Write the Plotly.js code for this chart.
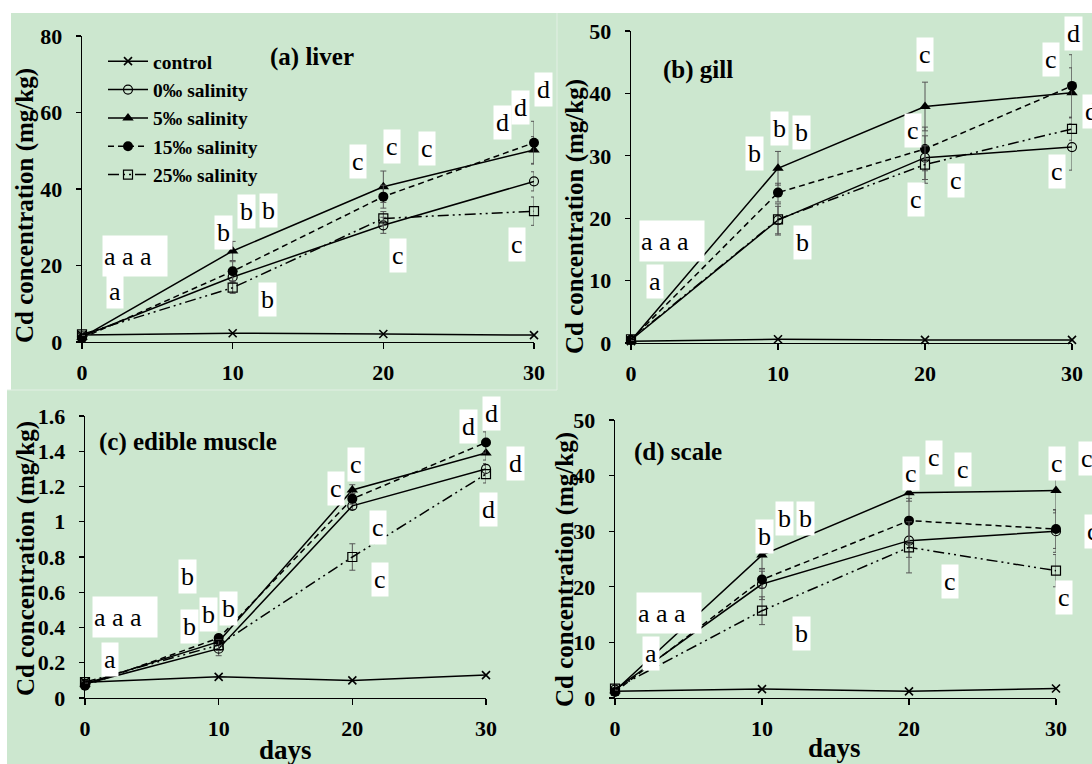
<!DOCTYPE html>
<html><head><meta charset="utf-8">
<script src="https://cdn.plot.ly/plotly-3.0.1.min.js"></script>
<style>html,body{margin:0;padding:0;background:#fff}#chart{width:1092px;height:764px}</style>
</head><body><div id="chart"></div>
<script>
// ---------- data ----------
const days = [0, 10, 20, 30];
const seriesNames = ['control', '0\u2030 salinity', '5\u2030 salinity', '15\u2030 salinity', '25\u2030 salinity'];
const panelTitles = ['(a) liver', '(b) gill', '(c) edible muscle', '(d) scale'];
const yAxisTitle = 'Cd concentration (mg/kg)';
const xAxisTitle = 'days';
const xTicks = [0, 10, 20, 30];
const liverTicks = [0, 20, 40, 60, 80];
const gillTicks = [0, 10, 20, 30, 40, 50];
const muscleTicks = [0, 0.2, 0.4, 0.6, 0.8, 1, 1.2, 1.4, 1.6];
const scaleTicks = [0, 10, 20, 30, 40, 50];

// rows: control, 0‰, 5‰, 15‰, 25‰
const liverMean = [
  [1.8, 2.3, 2.1, 1.8],
  [1.5, 17.0, 30.5, 42.0],
  [1.2, 23.8, 40.6, 50.2],
  [1.0, 18.5, 38.0, 52.1],
  [2.0, 14.2, 32.3, 34.2]
];
const liverErr = [
  [0, 0, 0, 0],
  [0.3, 1.5, 2.1, 2.5],
  [0.3, 2.5, 4.1, 3.5],
  [0.3, 2.5, 3.0, 5.6],
  [0.3, 1.5, 1.8, 3.7]
];
const gillMean = [
  [0.3, 0.6, 0.5, 0.5],
  [0.5, 19.7, 29.7, 31.4],
  [0.4, 28.0, 37.9, 40.1],
  [0.5, 24.1, 31.1, 41.2],
  [0.6, 19.8, 28.6, 34.3]
];
const gillErr = [
  [0, 0, 0, 0],
  [0.2, 2.2, 3.5, 3.7],
  [0.2, 2.7, 3.9, 4.0],
  [0.2, 1.5, 3.5, 5.0],
  [0.2, 2.5, 3.0, 1.8]
];
const muscleMean = [
  [0.09, 0.12, 0.10, 0.13],
  [0.08, 0.28, 1.09, 1.30],
  [0.08, 0.32, 1.18, 1.39],
  [0.07, 0.34, 1.13, 1.45],
  [0.09, 0.30, 0.80, 1.27]
];
const muscleErr = [
  [0, 0, 0, 0],
  [0.005, 0.04, 0.02, 0.03],
  [0.005, 0.02, 0.03, 0.04],
  [0.005, 0.02, 0.03, 0.06],
  [0.005, 0.03, 0.075, 0.05]
];
const scaleMean = [
  [1.2, 1.6, 1.2, 1.7],
  [1.5, 20.5, 28.3, 30.0],
  [1.3, 25.7, 36.9, 37.3],
  [1.1, 21.3, 31.9, 30.4],
  [1.7, 15.7, 27.1, 22.9]
];
const scaleErr = [
  [0, 0, 0, 0],
  [0.3, 2.8, 3.0, 3.8],
  [0.3, 2.5, 1.5, 4.0],
  [0.3, 1.5, 4.0, 3.5],
  [0.3, 2.5, 4.6, 2.9]
];

// significance letters: [text, day, value]
const liverLetters = [
  ['a a a', 3.55, 22.6], ['a', 2.16, 13.2],
  ['b', 9.36, 28.5], ['b', 10.95, 34.2], ['b', 12.4, 34.5], ['b', 12.3, 11.0],
  ['c', 18.3, 47.1], ['c', 20.6, 51.0], ['c', 22.9, 50.7], ['c', 21.0, 22.7],
  ['d', 27.9, 57.5], ['d', 29.1, 61.4], ['d', 30.66, 65.9], ['c', 28.9, 25.4]
];
const gillLetters = [
  ['a a a', 2.79, 16.4], ['a', 1.63, 9.8],
  ['b', 8.43, 30.4], ['b', 10.07, 34.4], ['b', 11.6, 33.7], ['b', 11.7, 16.1],
  ['c', 20.0, 46.2], ['c', 19.2, 34.0], ['c', 19.4, 23.0], ['c', 22.1, 26.1],
  ['c', 28.6, 45.5], ['d', 30.1, 49.6], ['c', 29.0, 27.5], ['d', 31.3, 37.1]
];
const muscleLetters = [
  ['a a a', 2.99, 0.457], ['a', 1.87, 0.216],
  ['b', 7.7, 0.692], ['b', 7.85, 0.403], ['b', 9.24, 0.471], ['b', 10.7, 0.508],
  ['c', 18.8, 1.19], ['c', 20.26, 1.325], ['c', 21.9, 0.967], ['c', 22.06, 0.67],
  ['d', 28.7, 1.543], ['d', 30.4, 1.617], ['d', 32.2, 1.33], ['d', 30.2, 1.072]
];
const scaleLetters = [
  ['a a a', 3.7, 15.2], ['a', 2.44, 8.05],
  ['b', 10.2, 29.0], ['b', 11.5, 32.2], ['b', 12.95, 32.2], ['b', 12.7, 11.6],
  ['c', 20.15, 40.4], ['c', 21.7, 43.3], ['c', 23.65, 41.1], ['c', 22.8, 21.0],
  ['c', 30.07, 42.1], ['c', 30.55, 18.0], ['c', 32.1, 43.0], ['c', 32.5, 30.0]
];

// ---------- styling / layout ----------
const W = 1092, H = 764;
const GREEN = '#CCE7CF';
const SERIF = "'Liberation Serif', 'Times New Roman', serif";
const px2x = p => p / W;
const px2y = p => 1 - p / H;

const panels = [
  {mean: liverMean, err: liverErr, letters: liverLetters, ticks: liverTicks, range: [0, 80],
   xs: '', xd: [82, 534], yd: [342, 36], title: [268, 57], ytitle: [25, 206], xtitle: null},
  {mean: gillMean, err: gillErr, letters: gillLetters, ticks: gillTicks, range: [0, 50],
   xs: '2', xd: [631, 1072], yd: [343, 31], title: [661, 70], ytitle: [575, 217], xtitle: null},
  {mean: muscleMean, err: muscleErr, letters: muscleLetters, ticks: muscleTicks, range: [0, 1.6],
   xs: '3', xd: [85, 486], yd: [698, 416], title: [97, 442], ytitle: [26, 559], xtitle: [285, 750]},
  {mean: scaleMean, err: scaleErr, letters: scaleLetters, ticks: scaleTicks, range: [0, 50],
   xs: '4', xd: [615, 1056], yd: [698, 420], title: [632, 452], ytitle: [565, 570], xtitle: [834, 748]}
];

const styles = [
  {symbol: 'x-thin-open', size: 8, lw: 1.6, dash: 'solid', err: false},
  {symbol: 'circle-open', size: 9, lw: 1.2, dash: 'solid', err: true},
  {symbol: 'triangle-up', size: 10, lw: 0, dash: 'solid', err: true},
  {symbol: 'circle', size: 10, lw: 0, dash: '6px,4px', err: true},
  {symbol: 'square-open', size: 9, lw: 1.2, dash: '11px,4px,2px,4px,2px,4px', err: true}
];

const traces = [];
const layout = {
  width: W, height: H,
  margin: {l: 0, r: 0, t: 0, b: 0},
  paper_bgcolor: '#ffffff',
  plot_bgcolor: 'rgba(0,0,0,0)',
  showlegend: true,
  legend: {
    x: px2x(103), y: px2y(42), xanchor: 'left', yanchor: 'top',
    bgcolor: 'rgba(0,0,0,0)', borderwidth: 0,
    font: {family: SERIF, size: 19.5, color: '#000', weight: 'bold'},
    itemwidth: 40, tracegroupgap: 0
  },
  shapes: [
    {type: 'rect', xref: 'paper', yref: 'paper', x0: px2x(11), x1: px2x(557), y0: px2y(390), y1: px2y(13), fillcolor: GREEN, line: {width: 0}, layer: 'below'},
    {type: 'rect', xref: 'paper', yref: 'paper', x0: px2x(557), x1: 1, y0: px2y(390), y1: px2y(13), fillcolor: GREEN, line: {width: 0}, layer: 'below'},
    {type: 'rect', xref: 'paper', yref: 'paper', x0: px2x(7), x1: px2x(557), y0: 0, y1: px2y(390), fillcolor: GREEN, line: {width: 0}, layer: 'below'},
    {type: 'rect', xref: 'paper', yref: 'paper', x0: px2x(557), x1: 1, y0: 0, y1: px2y(390), fillcolor: GREEN, line: {width: 0}, layer: 'below'},
    {type: 'line', xref: 'paper', yref: 'paper', x0: px2x(557), x1: px2x(557), y0: px2y(390), y1: px2y(13), line: {color: '#E2EFE4', width: 1}, layer: 'below'},
    {type: 'line', xref: 'paper', yref: 'paper', x0: px2x(7), x1: px2x(557), y0: px2y(390), y1: px2y(390), line: {color: '#E2EFE4', width: 1}, layer: 'below'}
  ],
  annotations: []
};

const tickFont = {family: SERIF, size: 22, color: '#000', weight: 'bold'};

panels.forEach((p, pi) => {
  const xa = 'xaxis' + p.xs, ya = 'yaxis' + p.xs;
  const xd = [px2x(p.xd[0]), px2x(p.xd[1])];
  const yd = [px2y(p.yd[0]), px2y(p.yd[1])];
  layout[xa] = {
    domain: xd, anchor: 'y' + p.xs, range: [0, 30], tickvals: xTicks,
    showline: true, linecolor: '#000', linewidth: 1.3, showgrid: false, zeroline: false,
    ticks: 'outside', ticklen: 6, tickwidth: 1.3, tickcolor: '#000',
    tickfont: tickFont, ticklabelstandoff: 4, fixedrange: true
  };
  layout[ya] = {
    domain: yd, anchor: 'x' + p.xs, range: p.range, tickvals: p.ticks,
    showline: true, linecolor: '#000', linewidth: 1.3, showgrid: false, zeroline: false,
    ticks: 'outside', ticklen: 5, tickwidth: 1.3, tickcolor: '#000',
    tickfont: tickFont, ticklabelstandoff: 9, fixedrange: true
  };
  p.mean.forEach((vals, si) => {
    const s = styles[si];
    traces.push({
      type: 'scatter', mode: 'lines+markers', x: days, y: vals,
      xaxis: 'x' + p.xs, yaxis: 'y' + p.xs,
      name: seriesNames[si], showlegend: pi === 0, cliponaxis: false,
      line: {color: '#000', width: 1.5, dash: s.dash},
      marker: {symbol: s.symbol, size: s.size, color: '#000', line: {color: '#000', width: s.lw}},
      error_y: {type: 'data', array: p.err[si], visible: s.err, color: '#555', thickness: 1, width: 3}
    });
  });
  // letters
  const xr = [0, 30], yr = p.range;
  p.letters.forEach(([t, d, v]) => {
    const fx = xd[0] + (d - xr[0]) / (xr[1] - xr[0]) * (xd[1] - xd[0]);
    const fy = yd[0] + (v - yr[0]) / (yr[1] - yr[0]) * (yd[1] - yd[0]);
    const ann = {
      xref: 'paper', yref: 'paper', x: fx, y: fy, xanchor: 'center', yanchor: 'middle',
      text: t, showarrow: false, bgcolor: '#ffffff', borderpad: 2,
      font: {family: SERIF, size: 26, color: '#000'}
    };
    if (t.length > 1) { ann.width = 62; ann.height = 38; ann.align = 'left'; ann.borderpad = 1; }
    layout.annotations.push(ann);
  });
  // panel title
  layout.annotations.push({
    xref: 'paper', yref: 'paper', x: px2x(p.title[0]), y: px2y(p.title[1]),
    xanchor: 'left', yanchor: 'middle', text: panelTitles[pi], showarrow: false,
    font: {family: SERIF, size: 25, color: '#000', weight: 'bold'}
  });
  // y title
  layout.annotations.push({
    xref: 'paper', yref: 'paper', x: px2x(p.ytitle[0]), y: px2y(p.ytitle[1]),
    xanchor: 'center', yanchor: 'middle', text: yAxisTitle, textangle: -90, showarrow: false,
    font: {family: SERIF, size: 25, color: '#000', weight: 'bold'}
  });
  if (p.xtitle) {
    layout.annotations.push({
      xref: 'paper', yref: 'paper', x: px2x(p.xtitle[0]), y: px2y(p.xtitle[1]),
      xanchor: 'center', yanchor: 'middle', text: xAxisTitle, showarrow: false,
      font: {family: SERIF, size: 27, color: '#000', weight: 'bold'}
    });
  }
});

Plotly.newPlot('chart', traces, layout, {displayModeBar: false, staticPlot: true});
</script>
</body></html>
